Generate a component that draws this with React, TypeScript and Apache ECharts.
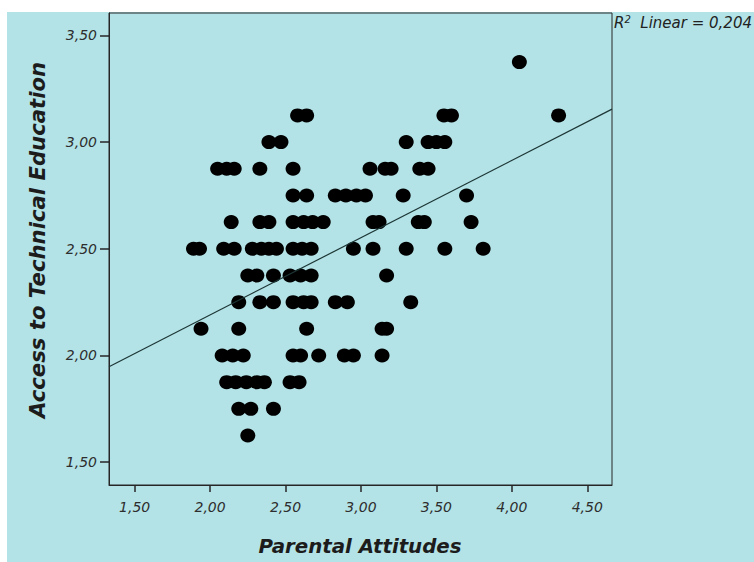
import React, { useEffect, useRef } from "react";
import * as echarts from "echarts";

// Access to Technical Education levels (y) and the Parental Attitudes values (x) at each level
const accessLevels = [3.375, 3.125, 3.0, 2.875, 2.75, 2.625, 2.5, 2.375, 2.25, 2.125, 2.0, 1.875, 1.75, 1.625];
const parentalAt3375 = [4.05];
const parentalAt3125 = [2.58, 2.64, 3.55, 3.6, 4.31];
const parentalAt3000 = [2.39, 2.47, 3.3, 3.445, 3.5, 3.556];
const parentalAt2875 = [2.05, 2.11, 2.16, 2.33, 2.55, 3.06, 3.16, 3.2, 3.39, 3.445];
const parentalAt2750 = [2.55, 2.64, 2.83, 2.9, 2.97, 3.03, 3.28, 3.7];
const parentalAt2625 = [2.14, 2.33, 2.39, 2.55, 2.62, 2.68, 2.75, 3.08, 3.12, 3.38, 3.42, 3.73];
const parentalAt2500 = [1.89, 1.93, 2.09, 2.16, 2.28, 2.34, 2.39, 2.44, 2.55, 2.61, 2.67, 2.95, 3.08, 3.3, 3.556, 3.81];
const parentalAt2375 = [2.25, 2.31, 2.42, 2.53, 2.6, 2.67, 3.17];
const parentalAt2250 = [2.19, 2.33, 2.42, 2.55, 2.62, 2.67, 2.83, 2.91, 3.33];
const parentalAt2125 = [1.94, 2.19, 2.64, 3.14, 3.17];
const parentalAt2000 = [2.08, 2.15, 2.22, 2.55, 2.6, 2.72, 2.89, 2.95, 3.14];
const parentalAt1875 = [2.11, 2.17, 2.24, 2.31, 2.36, 2.53, 2.59];
const parentalAt1750 = [2.19, 2.27, 2.42];
const parentalAt1625 = [2.25];
const parentalByLevel = [
  parentalAt3375, parentalAt3125, parentalAt3000, parentalAt2875, parentalAt2750,
  parentalAt2625, parentalAt2500, parentalAt2375, parentalAt2250, parentalAt2125,
  parentalAt2000, parentalAt1875, parentalAt1750, parentalAt1625,
];

const xTicks = [1.5, 2.0, 2.5, 3.0, 3.5, 4.0, 4.5];
const yTicks = [1.5, 2.0, 2.5, 3.0, 3.5];
const xMin = 1.33;
const xMax = 4.664;
const yMin = 1.393;
const yMax = 3.605;

const fitIntercept = 1.466;
const fitSlope = 0.362;
const rSquaredText = "0,204";

const xTitle = "Parental Attitudes";
const yTitle = "Access to Technical Education";

const fmt = (v: number) => v.toFixed(2).replace(".", ",");

export default function App() {
  const ref = useRef<HTMLDivElement>(null);

  useEffect(() => {
    if (!ref.current) return;
    const chart = echarts.init(ref.current, undefined, { renderer: "svg" });

    const points: number[][] = [];
    accessLevels.forEach((y, i) => {
      parentalByLevel[i].forEach((x) => points.push([x, y]));
    });

    const frame = "#262626";
    const labelStyle = {
      fontFamily: "DejaVu Sans",
      fontStyle: "italic" as const,
      fontSize: 14,
      color: "#2e2e2e",
    };

    chart.setOption({
      animation: false,
      backgroundColor: "#b3e3e7",
      grid: {
        left: 102,
        top: 1,
        width: 503,
        height: 472,
        show: true,
        borderColor: frame,
        borderWidth: 1,
        backgroundColor: "transparent",
      },
      xAxis: {
        type: "value",
        min: xMin,
        max: xMax,
        splitLine: { show: false },
        axisLine: { show: true, onZero: false, lineStyle: { color: frame, width: 1 } },
        axisTick: { show: true, length: 7, customValues: xTicks, lineStyle: { color: frame, width: 1.5 } },
        axisLabel: { ...labelStyle, customValues: xTicks, formatter: fmt, margin: 15 },
      },
      yAxis: {
        type: "value",
        min: yMin,
        max: yMax,
        splitLine: { show: false },
        axisLine: { show: true, onZero: false, lineStyle: { color: frame, width: 1 } },
        axisTick: { show: true, length: 9, customValues: yTicks, lineStyle: { color: frame, width: 1.5 } },
        axisLabel: { ...labelStyle, customValues: yTicks, formatter: fmt, margin: 12 },
      },
      series: [
        {
          type: "scatter",
          data: points,
          symbol: "circle",
          symbolSize: [15, 14],
          itemStyle: { color: "#000000", opacity: 1 },
          silent: true,
          z: 2,
        },
        {
          type: "line",
          data: [
            [xMin, fitIntercept + fitSlope * xMin],
            [xMax, fitIntercept + fitSlope * xMax],
          ],
          symbol: "none",
          lineStyle: { color: "#1d3535", width: 1.2 },
          silent: true,
          z: 3,
        },
      ],
      graphic: [
        {
          type: "text",
          x: 353,
          y: 534,
          style: {
            text: xTitle,
            fontFamily: "DejaVu Sans",
            fontWeight: "bold",
            fontStyle: "italic",
            fontSize: 19.8,
            fill: "#1c1c1c",
            align: "center",
            verticalAlign: "middle",
            textAlign: "center",
            textVerticalAlign: "middle",
          },
        },
        {
          type: "text",
          x: 30.5,
          y: 228,
          rotation: Math.PI / 2,
          style: {
            text: yTitle,
            fontFamily: "DejaVu Sans",
            fontWeight: "bold",
            fontStyle: "italic",
            fontSize: 21.2,
            fill: "#1c1c1c",
            align: "center",
            verticalAlign: "middle",
            textAlign: "center",
            textVerticalAlign: "middle",
          },
        },
        {
          type: "text",
          x: 607,
          y: 11,
          style: {
            text: "{r|R}{s|2}{t|  Linear = " + rSquaredText + "}",
            fill: "#222222",
            verticalAlign: "middle",
            textVerticalAlign: "middle",
            rich: {
              r: { fontFamily: "DejaVu Sans", fontStyle: "italic", fontSize: 15, lineHeight: 17, fill: "#222222", color: "#222222" },
              s: { fontFamily: "DejaVu Sans", fontStyle: "italic", fontSize: 10, lineHeight: 10, verticalAlign: "top", fill: "#222222", color: "#222222" },
              t: { fontFamily: "DejaVu Sans", fontStyle: "italic", fontSize: 15, lineHeight: 17, fill: "#222222", color: "#222222" },
            },
          },
        },
      ],
    });

    return () => chart.dispose();
  }, []);

  return (
    <div style={{ position: "fixed", left: 0, top: 0, width: 754, height: 562, background: "#ffffff", overflow: "hidden" }}>
      <div ref={ref} style={{ position: "absolute", left: 7, top: 12, width: 747, height: 550 }} />
    </div>
  );
}
